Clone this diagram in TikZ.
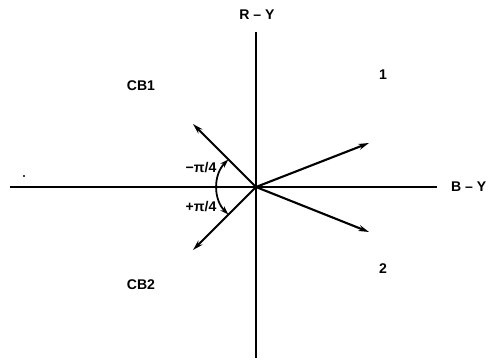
\documentclass[tikz,border=0pt]{standalone}
\usepackage{fontspec}
\setmainfont{Liberation Sans}
\usetikzlibrary{arrows.meta}
\begin{document}
\begin{tikzpicture}[x=0.02cm,y=-0.02cm,
  axis/.style={line width=1.2pt},
  vec/.style={line width=1.2pt,-{Stealth[length=6pt,width=3.4pt]}},
  lbl/.style={font=\fontsize{8}{9}\selectfont\bfseries},
  angarc/.style={line width=1pt,{Stealth[length=5pt,width=3.2pt]}-{Stealth[length=5pt,width=3.2pt]}}]
\useasboundingbox (0,0) rectangle (488,362);
\coordinate (O) at (256,187);
\coordinate (top) at (256,32);
\coordinate (bot) at (256,358);
\coordinate (left) at (10,187);
\coordinate (right) at (437,187);
\draw[axis] (top) -- (bot);
\draw[axis] (left) -- (right);
\coordinate (t1) at (369,143);
\coordinate (t2) at (369,232);
\coordinate (tcb1) at (193,124);
\coordinate (tcb2) at (193,250);
\draw[vec] (O) -- (t1);
\draw[vec] (O) -- (tcb1);
\draw[vec] (O) -- (tcb2);
\draw[vec] (O) -- (t2);
\draw[angarc] ([shift={(135:39)}]O) arc[start angle=135,end angle=225,radius=39];
\fill (24,176) circle (1.1);
\node[lbl] (ry) at (257,15) {R – Y};
\node[lbl,anchor=west] (by) at (445,187) {B – Y};
\node[lbl] (cb1) at (141,86) {CB1};
\node[lbl] (cb2) at (141,285) {CB2};
\node[lbl] (n1) at (383,75) {1};
\node[lbl] (n2) at (383,269) {2};
\node[lbl] (mp) at (201,168) {−π/4};
\node[lbl] (pp) at (201,207) {+π/4};
\end{tikzpicture}
\end{document}
